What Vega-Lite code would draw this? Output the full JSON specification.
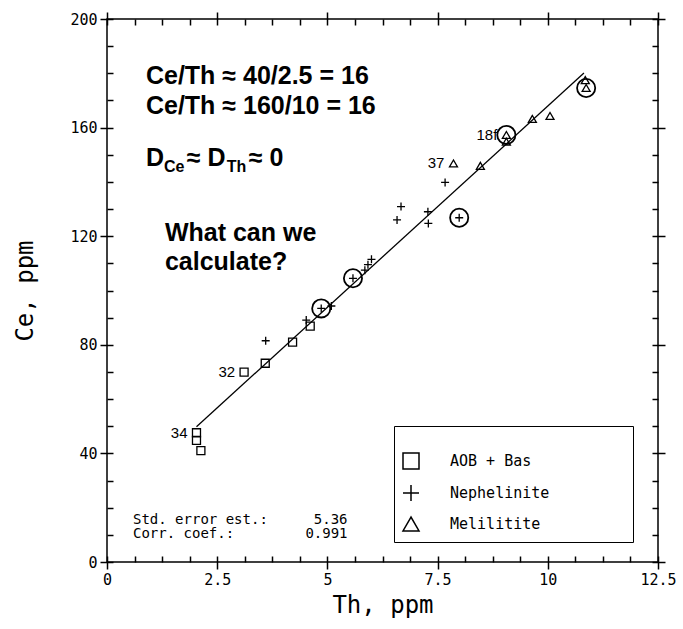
{
  "$schema": "https://vega.github.io/schema/vega-lite/v6.json",
  "width": 551,
  "height": 543,
  "autosize": {"type": "none"},
  "padding": {"left": 107, "top": 19, "right": 25, "bottom": 67},
  "background": "white",
  "config": {
    "view": {"stroke": "black", "strokeWidth": 1.5},
    "text": {"color": "black"}
  },
  "datasets": {
    "samples": [
      {"type": "AOB + Bas", "Th": 2.03, "Ce": 47.6, "tag": "34"},
      {"type": "AOB + Bas", "Th": 2.03, "Ce": 44.8},
      {"type": "AOB + Bas", "Th": 2.13, "Ce": 41.0},
      {"type": "AOB + Bas", "Th": 3.11, "Ce": 69.9, "tag": "32"},
      {"type": "AOB + Bas", "Th": 3.59, "Ce": 73.2},
      {"type": "AOB + Bas", "Th": 4.21, "Ce": 81.0},
      {"type": "AOB + Bas", "Th": 4.61, "Ce": 86.9},
      {"type": "Nephelinite", "Th": 3.6, "Ce": 81.5},
      {"type": "Nephelinite", "Th": 4.52, "Ce": 89.1},
      {"type": "Nephelinite", "Th": 4.86, "Ce": 93.4, "circled": true},
      {"type": "Nephelinite", "Th": 5.09, "Ce": 94.3},
      {"type": "Nephelinite", "Th": 5.58, "Ce": 104.5, "circled": true},
      {"type": "Nephelinite", "Th": 5.85, "Ce": 107.5},
      {"type": "Nephelinite", "Th": 5.92, "Ce": 109.5},
      {"type": "Nephelinite", "Th": 6.0, "Ce": 111.5},
      {"type": "Nephelinite", "Th": 6.58, "Ce": 126.0},
      {"type": "Nephelinite", "Th": 6.67, "Ce": 130.9},
      {"type": "Nephelinite", "Th": 7.28, "Ce": 129.0},
      {"type": "Nephelinite", "Th": 7.29, "Ce": 124.7},
      {"type": "Nephelinite", "Th": 7.67, "Ce": 139.8},
      {"type": "Nephelinite", "Th": 7.99, "Ce": 126.8, "circled": true},
      {"type": "Melilitite", "Th": 7.86, "Ce": 146.8, "tag": "37"},
      {"type": "Melilitite", "Th": 8.47, "Ce": 145.9},
      {"type": "Melilitite", "Th": 9.06, "Ce": 157.3, "circled": true, "tag": "18f"},
      {"type": "Melilitite", "Th": 9.06, "Ce": 154.8},
      {"type": "Melilitite", "Th": 9.65, "Ce": 163.2},
      {"type": "Melilitite", "Th": 10.05, "Ce": 164.3},
      {"type": "Melilitite", "Th": 10.85, "Ce": 177.5},
      {"type": "Melilitite", "Th": 10.87, "Ce": 174.6, "circled": true}
    ],
    "fit": [
      {"Th": 2.03, "Ce": 49.8},
      {"Th": 10.82, "Ce": 180.1}
    ],
    "notes": [
      {"kind": "big", "Th": 0.883, "Ce": 176.1, "label": "Ce/Th ≈ 40/2.5 = 16"},
      {"kind": "big", "Th": 0.883, "Ce": 165.0, "label": "Ce/Th ≈ 160/10 = 16"},
      {"kind": "big", "Th": 0.883, "Ce": 145.9, "label": "D"},
      {"kind": "sub", "Th": 1.291, "Ce": 143.6, "label": "Ce"},
      {"kind": "big", "Th": 1.812, "Ce": 145.9, "label": "≈ D"},
      {"kind": "sub", "Th": 2.717, "Ce": 143.6, "label": "Th"},
      {"kind": "big", "Th": 3.216, "Ce": 145.9, "label": "≈ 0"},
      {"kind": "big", "Th": 1.313, "Ce": 118.2, "label": "What can we"},
      {"kind": "big", "Th": 1.313, "Ce": 107.6, "label": "calculate?"},
      {"kind": "statL", "Th": 0.589, "Ce": 15.65, "label": "Std. error est.:"},
      {"kind": "statL", "Th": 0.589, "Ce": 10.31, "label": "Corr. coef.:"},
      {"kind": "statR", "Th": 5.457, "Ce": 15.65, "label": "5.36"},
      {"kind": "statR", "Th": 5.457, "Ce": 10.31, "label": "0.991"}
    ]
  },
  "resolve": {"axis": {"x": "independent", "y": "independent"}},
  "layer": [
    {
      "data": {"name": "fit"},
      "mark": {"type": "line", "color": "black", "strokeWidth": 1.3},
      "encoding": {
        "x": {
          "field": "Th", "type": "quantitative",
          "scale": {"domain": [0, 12.5], "nice": false, "zero": false},
          "axis": {
            "orient": "top", "domain": false, "offset": -6, "grid": false,
            "values": [0, 0.625, 1.25, 1.875, 2.5, 3.125, 3.75, 4.375, 5, 5.625, 6.25, 6.875, 7.5, 8.125, 8.75, 9.375, 10, 10.625, 11.25, 11.875, 12.5],
            "tickSize": {"condition": {"test": "datum.value % 2.5 === 0", "value": 13}, "value": 6},
            "tickColor": "black", "tickWidth": 1.5,
            "labels": false, "title": null
          }
        },
        "y": {
          "field": "Ce", "type": "quantitative",
          "scale": {"domain": [0, 200], "nice": false},
          "axis": {
            "orient": "right", "domain": false, "offset": -6, "grid": false,
            "values": [0, 10, 20, 30, 40, 50, 60, 70, 80, 90, 100, 110, 120, 130, 140, 150, 160, 170, 180, 190, 200],
            "tickSize": {"condition": {"test": "datum.value % 40 === 0", "value": 13}, "value": 6},
            "tickColor": "black", "tickWidth": 1.5,
            "labels": false, "title": null
          }
        }
      }
    },
    {
      "data": {"name": "samples"},
      "mark": {"type": "point", "filled": false, "color": "black", "strokeWidth": 1.3, "size": 64, "opacity": 1},
      "encoding": {
        "x": {
          "field": "Th", "type": "quantitative",
          "scale": {"domain": [0, 12.5], "nice": false, "zero": false},
          "axis": {
            "orient": "bottom", "domain": false, "offset": -6, "grid": false,
            "values": [0, 0.625, 1.25, 1.875, 2.5, 3.125, 3.75, 4.375, 5, 5.625, 6.25, 6.875, 7.5, 8.125, 8.75, 9.375, 10, 10.625, 11.25, 11.875, 12.5],
            "tickSize": {"condition": {"test": "datum.value % 2.5 === 0", "value": 13}, "value": 6},
            "tickColor": "black", "tickWidth": 1.5,
            "labelExpr": "datum.value % 2.5 === 0 ? '' + datum.value : ''",
            "labelFont": "DejaVu Sans Mono", "labelFontSize": 15, "labelColor": "black",
            "labelPadding": 3, "labelFlush": false, "labelOverlap": false,
            "title": "Th, ppm", "titleFont": "DejaVu Sans Mono", "titleFontSize": 24,
            "titleFontWeight": "normal", "titleColor": "black", "titlePadding": 6
          }
        },
        "y": {
          "field": "Ce", "type": "quantitative",
          "scale": {"domain": [0, 200], "nice": false},
          "axis": {
            "orient": "left", "domain": false, "offset": -6, "grid": false,
            "values": [0, 10, 20, 30, 40, 50, 60, 70, 80, 90, 100, 110, 120, 130, 140, 150, 160, 170, 180, 190, 200],
            "tickSize": {"condition": {"test": "datum.value % 40 === 0", "value": 13}, "value": 6},
            "tickColor": "black", "tickWidth": 1.5,
            "labelExpr": "datum.value % 40 === 0 ? '' + datum.value : ''",
            "labelFont": "DejaVu Sans Mono", "labelFontSize": 15, "labelColor": "black",
            "labelPadding": 3, "labelFlush": false, "labelOverlap": false,
            "title": "Ce, ppm", "titleFont": "DejaVu Sans Mono", "titleFontSize": 24,
            "titleFontWeight": "normal", "titleColor": "black", "titlePadding": 32
          }
        },
        "shape": {
          "field": "type", "type": "nominal",
          "scale": {
            "domain": ["AOB + Bas", "Nephelinite", "Melilitite"],
            "range": ["square", "M-1,0H1M0,-1V1", "triangle-up"]
          },
          "legend": {
            "orient": "none", "legendX": 287, "legendY": 407,
            "title": ".....................................",
            "titleFont": "DejaVu Sans Mono", "titleFontSize": 10, "titleLimit": 1000, "titlePadding": 8,
            "titleColor": "white", "titleOpacity": 0,
            "padding": 8,
            "strokeColor": "black", "fillColor": "white",
            "symbolSize": 256, "symbolStrokeWidth": 1.5, "symbolStrokeColor": "black",
            "labelFont": "DejaVu Sans Mono", "labelFontSize": 15, "labelColor": "black", "labelOffset": 30,
            "rowPadding": 10
          }
        }
      }
    },
    {
      "data": {"name": "samples"},
      "transform": [{"filter": "datum.circled === true"}],
      "mark": {"type": "point", "shape": "circle", "filled": false, "color": "black", "strokeWidth": 1.8, "size": 330, "opacity": 1},
      "encoding": {
        "x": {"field": "Th", "type": "quantitative", "axis": null, "scale": {"domain": [0, 12.5], "nice": false, "zero": false}},
        "y": {"field": "Ce", "type": "quantitative", "axis": null, "scale": {"domain": [0, 200], "nice": false}}
      }
    },
    {
      "data": {"name": "samples"},
      "transform": [{"filter": "datum.tag != null"}],
      "mark": {"type": "text", "align": "right", "baseline": "middle", "dx": -9, "font": "Liberation Sans", "fontSize": 15, "color": "black"},
      "encoding": {
        "x": {"field": "Th", "type": "quantitative", "axis": null, "scale": {"domain": [0, 12.5], "nice": false, "zero": false}},
        "y": {"field": "Ce", "type": "quantitative", "axis": null, "scale": {"domain": [0, 200], "nice": false}},
        "text": {"field": "tag"}
      }
    },
    {
      "data": {"name": "notes"},
      "transform": [{"filter": "datum.kind === 'big'"}],
      "mark": {"type": "text", "align": "left", "baseline": "alphabetic", "font": "Liberation Sans", "fontWeight": "bold", "fontSize": 25, "color": "black"},
      "encoding": {
        "x": {"field": "Th", "type": "quantitative", "axis": null, "scale": {"domain": [0, 12.5], "nice": false, "zero": false}},
        "y": {"field": "Ce", "type": "quantitative", "axis": null, "scale": {"domain": [0, 200], "nice": false}},
        "text": {"field": "label"}
      }
    },
    {
      "data": {"name": "notes"},
      "transform": [{"filter": "datum.kind === 'sub'"}],
      "mark": {"type": "text", "align": "left", "baseline": "alphabetic", "font": "Liberation Sans", "fontWeight": "bold", "fontSize": 16, "color": "black"},
      "encoding": {
        "x": {"field": "Th", "type": "quantitative", "axis": null, "scale": {"domain": [0, 12.5], "nice": false, "zero": false}},
        "y": {"field": "Ce", "type": "quantitative", "axis": null, "scale": {"domain": [0, 200], "nice": false}},
        "text": {"field": "label"}
      }
    },
    {
      "data": {"name": "notes"},
      "transform": [{"filter": "datum.kind === 'statL'"}],
      "mark": {"type": "text", "align": "left", "baseline": "middle", "font": "DejaVu Sans Mono", "fontSize": 14, "color": "black"},
      "encoding": {
        "x": {"field": "Th", "type": "quantitative", "axis": null, "scale": {"domain": [0, 12.5], "nice": false, "zero": false}},
        "y": {"field": "Ce", "type": "quantitative", "axis": null, "scale": {"domain": [0, 200], "nice": false}},
        "text": {"field": "label"}
      }
    },
    {
      "data": {"name": "notes"},
      "transform": [{"filter": "datum.kind === 'statR'"}],
      "mark": {"type": "text", "align": "right", "baseline": "middle", "font": "DejaVu Sans Mono", "fontSize": 14, "color": "black"},
      "encoding": {
        "x": {"field": "Th", "type": "quantitative", "axis": null, "scale": {"domain": [0, 12.5], "nice": false, "zero": false}},
        "y": {"field": "Ce", "type": "quantitative", "axis": null, "scale": {"domain": [0, 200], "nice": false}},
        "text": {"field": "label"}
      }
    }
  ]
}
